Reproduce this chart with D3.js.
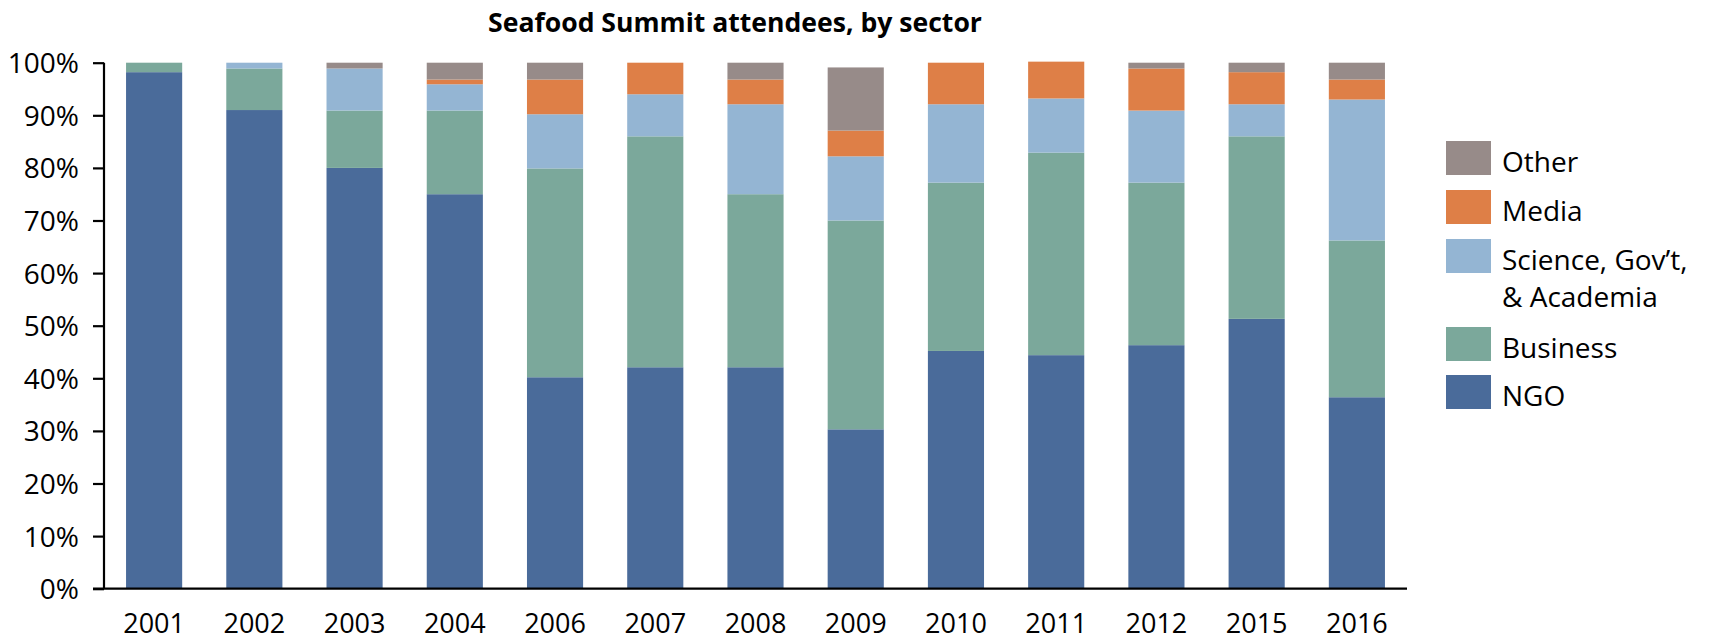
<!DOCTYPE html>
<html>
<head>
<meta charset="utf-8">
<script src="https://cdn.jsdelivr.net/npm/d3@7"></script>
<style>
  html, body { margin: 0; padding: 0; background: #fff; }
  svg { display: block; font-family: "Open Sans", "Noto Sans", sans-serif; }
</style>
</head>
<body>
<svg id="chart" width="1712" height="641"></svg>
<script>
// ---- data ----
const years = ["2001","2002","2003","2004","2006","2007","2008","2009","2010","2011","2012","2015","2016"];
const ngo      = [98.2, 91.0, 80.0, 75.0, 40.2, 42.1, 42.1, 30.3, 45.2, 44.4, 46.3, 51.3, 36.4];
const business = [1.8, 7.9, 10.9, 15.9, 39.7, 43.9, 32.9, 39.7, 32.0, 38.5, 30.9, 34.7, 29.8];
const science  = [0, 1.1, 8.0, 5.0, 10.3, 8.0, 17.1, 12.2, 14.9, 10.3, 13.7, 6.1, 26.8];
const media    = [0, 0, 0, 0.9, 6.6, 6.0, 4.7, 4.9, 7.9, 7.0, 8.0, 6.1, 3.8];
const other    = [0, 0, 1.1, 3.2, 3.2, 0, 3.2, 12.0, 0, 0, 1.1, 1.8, 3.2];
const seriesKeys = ["NGO", "Business", "Science", "Media", "Other"];
const seriesLabels = {NGO: ["NGO"], Business: ["Business"], Science: ["Science, Gov’t,", "& Academia"], Media: ["Media"], Other: ["Other"]};
const yTicks = [0, 10, 20, 30, 40, 50, 60, 70, 80, 90, 100];
const chartTitle = "Seafood Summit attendees, by sector";

const colors = {NGO: "#4a6b9a", Business: "#7ba89b", Science: "#94b5d3", Media: "#de7f47", Other: "#978b89"};

const table = years.map((yr, i) => ({year: yr, NGO: ngo[i], Business: business[i], Science: science[i], Media: media[i], Other: other[i]}));

// ---- layout ----
const svg = d3.select("#chart");
const pLeft = 104, pRight = 1407, pTop = 62.7, pBottom = 588.7;

const x = d3.scaleBand().domain(years).range([pLeft, pRight]).paddingInner(0.44).paddingOuter(0.22);
const y = d3.scaleLinear().domain([0, 100]).range([pBottom, pTop]);

const stacked = d3.stack().keys(seriesKeys)(table);

svg.append("g").selectAll("g")
  .data(stacked).join("g")
  .attr("fill", d => colors[d.key])
  .selectAll("rect")
  .data(d => d).join("rect")
  .attr("x", d => x(d.data.year))
  .attr("width", x.bandwidth())
  .attr("y", d => y(d[1]))
  .attr("height", d => Math.max(0, y(d[0]) - y(d[1])));

// y axis
const yAxis = d3.axisLeft(y).tickValues(yTicks).tickFormat(d => d + "%").tickSize(11).tickPadding(14);
const gy = svg.append("g").attr("transform", `translate(${pLeft},0)`).call(yAxis);
gy.select(".domain").attr("stroke", "#000").attr("stroke-width", 2.2).attr("d", `M0,${pTop}V${pBottom}`);
gy.selectAll(".tick line").attr("stroke", "#000").attr("stroke-width", 2.2);
gy.selectAll(".tick text").attr("font-size", 28).attr("fill", "#000")
  .attr("font-family", "'Open Sans', sans-serif").attr("dy", "0.36em");

// x axis
const xAxis = d3.axisBottom(x).tickSize(0).tickPadding(0);
const gx = svg.append("g").attr("transform", `translate(0,${pBottom})`).call(xAxis);
gx.select(".domain").attr("stroke", "#000").attr("stroke-width", 2.2).attr("d", `M${pLeft - 11},0H${pRight}`);
gx.selectAll(".tick text").attr("font-size", 27).attr("fill", "#000")
  .attr("font-family", "'Open Sans', sans-serif").attr("y", 44).attr("dy", 0);

// title
const t = svg.append("text").attr("x", 735).attr("y", 32).attr("text-anchor", "middle")
  .attr("font-weight", "bold").attr("font-size", 28).attr("fill", "#000").text(chartTitle);
const tw = t.node().getComputedTextLength();
if (tw > 0) t.attr("font-size", 28 * 494 / tw);

// legend (top to bottom: Other, Media, Science, Business, NGO)
const legendOrder = seriesKeys.slice().reverse();
const legendTops = {Other: 141, Media: 190, Science: 239, Business: 327, NGO: 375};
const lg = svg.append("g");
legendOrder.forEach(k => {
  const ty = legendTops[k];
  lg.append("rect").attr("x", 1446).attr("y", ty).attr("width", 45).attr("height", 34).attr("fill", colors[k]);
  const txt = lg.append("text").attr("x", 1502).attr("y", ty + 31).attr("font-size", 28).attr("fill", "#000");
  seriesLabels[k].forEach((line, i) => {
    txt.append("tspan").attr("x", 1502).attr("dy", i === 0 ? 0 : 36.7).text(line);
  });
});
</script>
</body>
</html>
